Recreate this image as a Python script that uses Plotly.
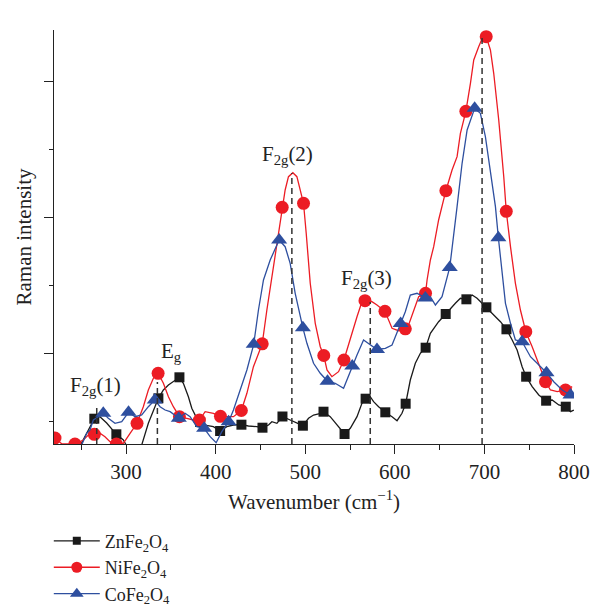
import plotly.graph_objects as go

# ---------------- data (wavenumber in cm^-1, Raman intensity in a.u.) ----------------
zn_wn = [248.6, 264.6, 270.9, 278.4, 289.2, 297.0, 300.8, 312.3, 317.5, 324.9, 336.1, 341.7, 347.3, 352.8,
         359.6, 364.0, 369.6, 373.4, 379.0, 382.7, 386.4, 397.5, 405.0, 412.5, 419.9, 428.8, 436.6, 446.0,
         452.3, 459.0, 462.8, 468.4, 474.6, 483.2, 490.7, 497.4, 503.7, 509.3, 514.9, 520.4, 527.9, 537.2,
         543.9, 550.3, 557.8, 563.3, 567.4, 572.6, 576.3, 581.9, 589.4, 596.9, 602.5, 608.0, 612.1, 617.3,
         622.9, 628.5, 634.4, 639.7, 643.4, 648.9, 656.8, 662.0, 667.6, 673.2, 679.9, 686.3, 691.8, 697.4,
         702.2, 710.4, 717.9, 724.6, 731.0, 736.5, 742.1, 746.6, 753.3, 760.7, 768.9, 775.6, 783.0, 790.8,
         796.1, 799.8]
zn_int = [-2, 25.3, 27.3, 21, 9.7, 4, -2, -8, -1, 20.7, 45.7, 54, 59, 62.3,
          66.7, 60.7, 47.3, 35.7, 25.7, 22, 19, 17.3, 13, 17.3, 19, 19.3, 18, 17.3,
          16.3, 19, 22.3, 20.7, 27.5, 24, 21.3, 18.3, 25.7, 29, 30, 32.3, 27.3, 17.3,
          10, 15.7, 27.3, 40.7, 45.3, 47.3, 42.3, 37.3, 31.7, 27.3, 23.3, 30.7, 40.3, 64,
          80.7, 90.7, 96.3, 110.7, 115.7, 122.3, 130, 135.7, 140.7, 145.7, 144.7, 149, 145.7, 140.7,
          136.7, 129, 122.3, 114.7, 104, 94, 77.3, 67.3, 57.3, 49, 43.3, 44, 39, 37.3,
          32.3, 34]
zn_marks = [264.6, 289.2, 312.3, 336.1, 359.6, 382.7, 405.0, 428.8, 452.3, 474.6, 497.4, 520.4,
            543.9, 567.4, 589.4, 612.1, 634.4, 656.8, 679.9, 702.2, 724.6, 746.6, 768.9, 790.8]

ni_wn = [219.6, 220.7, 228.5, 243.0, 252.3, 257.9, 264.6, 270.9, 276.5, 282.1, 289.2, 297.0, 304.5, 312.3,
         319.3, 324.9, 330.5, 335.8, 341.7, 347.3, 352.8, 359.6, 367.8, 375.2, 381.9, 388.3, 397.5, 405.4,
         412.5, 419.9, 428.7, 434.9, 442.2, 452.0, 457.2, 464.6, 470.2, 474.3, 477.6, 481.3, 486.2, 490.7,
         494.4, 498.1, 501.1, 505.6, 511.2, 516.8, 520.7, 524.3, 529.8, 537.2, 543.2, 546.6, 550.3, 557.8,
         563.3, 566.7, 574.5, 580.1, 589.0, 593.1, 596.9, 604.2, 611.7, 615.4, 621.0, 626.6, 634.3, 636.0,
         639.7, 643.4, 648.9, 657.0, 663.9, 669.5, 673.2, 679.3, 684.4, 688.1, 693.6, 699.2, 702.0, 706.7,
         710.4, 716.0, 721.6, 724.4, 729.1, 734.6, 740.2, 746.2, 753.3, 760.7, 768.2, 773.7, 781.2, 790.5,
         798.0]
ni_int = [8, 6, 0, 0, 4, 9, 9.7, 10.7, 7.3, 2.3, 0, 0.7, 10.7, 20.7,
          37.3, 54, 65.7, 70.7, 60.7, 47.3, 37.3, 27.3, 25.7, 24, 24, 32.3, 30.7, 27.7,
          27.3, 27.3, 33.5, 50.7, 77.3, 100.2, 134, 177.3, 210.7, 236.7, 254, 267.3, 271.3, 267.3,
          254, 240.7, 210.7, 160.7, 120.7, 97.3, 88.5, 74, 67.3, 72.3, 84, 94, 107.3, 127.3,
          142.3, 143.3, 142.3, 139, 132.7, 124, 115.7, 113.3, 115.2, 119, 134, 147.3, 150.7, 164,
          184, 197.3, 224, 253.3, 274, 287.3, 310.7, 332.7, 360.7, 384, 397.3, 409, 407.3, 394,
          370.7, 324, 267.3, 232.7, 197.3, 160.7, 134, 112.3, 97.3, 80.7, 62.3, 54, 52.3, 54,
          57.3]
ni_marks = [220.7, 243.0, 264.6, 289.2, 312.3, 335.8, 359.6, 381.9, 405.4, 428.7, 452.0, 474.3, 498.1,
            520.7, 543.2, 566.7, 589.0, 611.7, 634.3, 657.0, 679.3, 702.0, 724.4, 746.2, 768.2, 790.5]

co_wn = [250.5, 256.1, 259.8, 263.5, 269.1, 274.6, 280.2, 287.7, 295.2, 302.8, 310.1, 317.5, 324.9, 332.1,
         338.0, 343.6, 349.2, 358.9, 365.9, 371.5, 379.0, 387.2, 393.9, 400.6, 406.9, 414.5, 419.9, 427.4,
         434.9, 442.5, 447.8, 453.4, 460.9, 470.9, 477.6, 483.2, 488.8, 497.4, 501.9, 509.3, 516.8, 524.9,
         533.5, 542.8, 552.5, 557.8, 565.1, 570.7, 580.1, 589.4, 596.9, 606.5, 611.7, 617.3, 624.8, 634.1,
         639.7, 645.3, 652.7, 661.3, 665.7, 669.5, 675.1, 680.7, 689.1, 695.5, 701.1, 706.7, 712.3, 715.6,
         719.8, 723.5, 729.1, 734.6, 742.1, 745.8, 751.4, 758.9, 769.3, 777.4, 786.8, 796.1]
co_int = [-1, 10.7, 14, 24, 27.3, 30.7, 25.7, 20.7, 22.3, 31.7, 27.3, 29, 37.3, 44,
          37.3, 34, 32.3, 25.7, 30.7, 27.3, 17.3, 15.7, 7.3, 1.3, 12.3, 22.3, 34, 54,
          74, 99.7, 134, 164, 184, 204, 197.3, 180.7, 150.7, 116.2, 100.7, 80.7, 70.7, 62.7,
          60.7, 55.7, 78, 89, 104, 100.7, 94.5, 95.7, 99, 120.5, 132.3, 149, 150.7, 146,
          147.3, 139, 147.3, 176.5, 207.3, 237.3, 280.7, 314, 335.7, 330.7, 307.3, 274, 237.3, 206.2,
          170.7, 140.7, 120.7, 104, 102.3, 95.7, 87.3, 80.7, 71.3, 62.3, 54, 49]
co_marks = [274.6, 302.8, 332.1, 358.9, 387.2, 414.5, 442.5, 470.9, 497.4, 524.9, 552.5, 580.1,
            606.5, 634.1, 661.3, 689.1, 715.6, 742.1, 769.3, 796.1]

# Raman modes: label, band position, height of dashed guide, label anchor
mode_labels = ["F<sub>2g</sub>(1)", "E<sub>g</sub>", "F<sub>2g</sub>(2)", "F<sub>2g</sub>(3)", "A<sub>1g</sub>"]
mode_wn = [267.3, 335.0, 485.1, 572.6, 697.4]
mode_top = [36, 62, 271, 142, 409]
label_wn = [265.4, 350.3, 480.4, 568.2, 700.0]
label_int = [58, 92, 289, 165, 426]

series_names = ["ZnFe<sub>2</sub>O<sub>4</sub>", "NiFe<sub>2</sub>O<sub>4</sub>", "CoFe<sub>2</sub>O<sub>4</sub>"]

# ---------------- figure ----------------
FONT = "Liberation Serif"
colors = ["#1a1a1a", "#ec1c24", "#2e4f9f"]
symbols = ["square", "circle", "triangle-up"]
msizes = [10, 13, 14]

fig = go.Figure()
datasets = [(zn_wn, zn_int, zn_marks), (ni_wn, ni_int, ni_marks), (co_wn, co_int, co_marks)]
for (wn, it, marks), name, c, s, ms in zip(datasets, series_names, colors, symbols, msizes):
    fig.add_trace(go.Scatter(x=wn, y=it, mode="lines", line=dict(color=c, width=1.3),
                             showlegend=False, hoverinfo="skip"))
    mset = set(marks)
    mx = [w for w in wn if w in mset]
    my = [v for w, v in zip(wn, it) if w in mset]
    fig.add_trace(go.Scatter(x=mx, y=my, mode="markers", showlegend=False,
                             marker=dict(symbol=s, size=ms, color=c, line=dict(width=0))))
    fig.add_trace(go.Scatter(x=[None], y=[None], mode="lines+markers", name=name,
                             line=dict(color=c, width=1.3),
                             marker=dict(symbol=s, size=ms - 2, color=c, line=dict(width=0))))

for w, top in zip(mode_wn, mode_top):
    fig.add_shape(type="line", xref="x", yref="y", x0=w, x1=w, y0=0, y1=top,
                  line=dict(color="#333333", width=1.5, dash="6px,4px"))

for lab, x, y in zip(mode_labels, label_wn, label_int):
    fig.add_annotation(x=x, y=y, xref="x", yref="y", text=lab, showarrow=False,
                       font=dict(family=FONT, size=21, color="#222"))

fig.update_layout(
    width=596, height=610, autosize=False,
    margin=dict(l=54, r=22, t=30, b=166, autoexpand=False),
    paper_bgcolor="white", plot_bgcolor="white",
    font=dict(family=FONT, size=20, color="#222"),
    legend=dict(x=-0.01, y=-0.19, xanchor="left", yanchor="top", orientation="v",
                font=dict(family=FONT, size=18, color="#222"), itemwidth=46,
                tracegroupgap=0, bgcolor="rgba(0,0,0,0)"),
)
fig.update_xaxes(range=[219.6, 800], showgrid=False, zeroline=False,
                 showline=True, linecolor="#222", linewidth=1.3,
                 ticks="outside", ticklen=9, tickwidth=1.3, tickcolor="#222",
                 tick0=300, dtick=100,
                 minor=dict(ticks="outside", ticklen=5, tickwidth=1.3, tickcolor="#222", dtick=50, tick0=250),
                 tickfont=dict(family=FONT, size=21, color="#222"),
                 title=dict(text="Wavenumber (cm<sup>−1</sup>)", font=dict(family=FONT, size=21, color="#222"),
                            standoff=10))
fig.update_yaxes(range=[0, 414], showgrid=False, zeroline=False,
                 showline=True, linecolor="#222", linewidth=1.3,
                 ticks="outside", ticklen=9, tickwidth=1.3, tickcolor="#222",
                 tick0=91, dtick=136, showticklabels=False,
                 minor=dict(ticks="outside", ticklen=4, tickwidth=1.3, tickcolor="#222", dtick=68, tick0=23),
                 title=dict(text="Raman intensity", font=dict(family=FONT, size=21, color="#222"),
                            standoff=6))

fig.write_html("out.html")
